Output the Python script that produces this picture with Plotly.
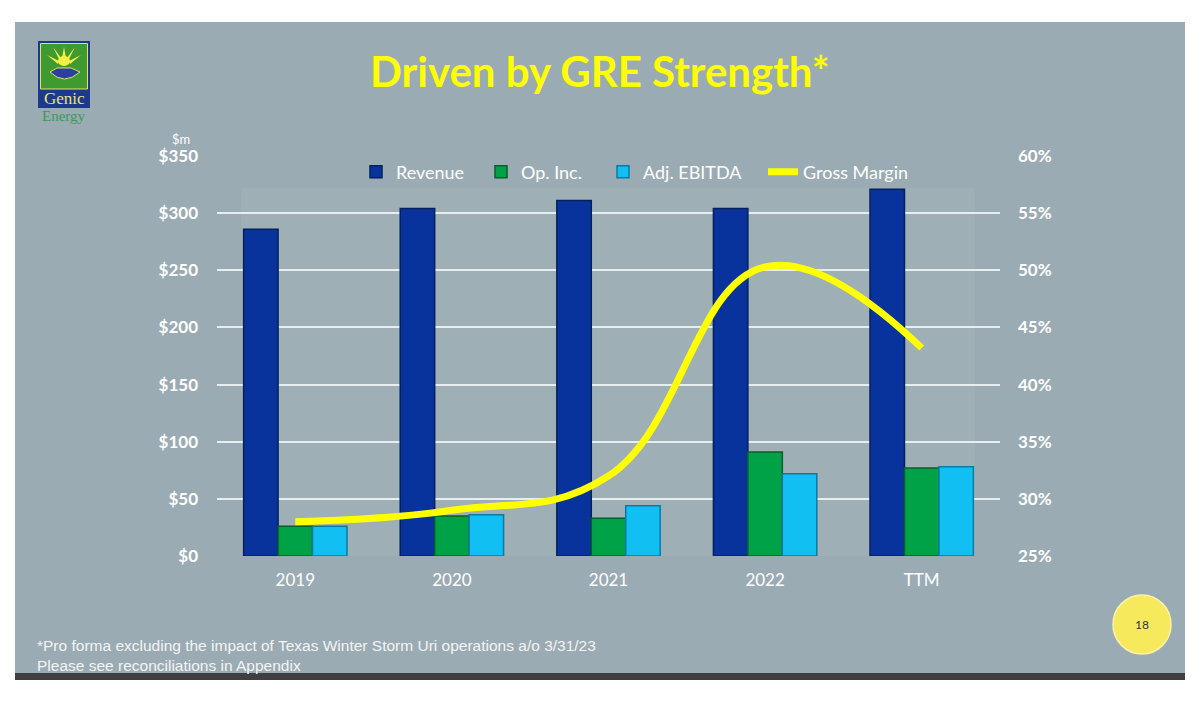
import plotly.graph_objects as go

# values
years = ["2019", "2020", "2021", "2022", "TTM"]
revenue = [286, 304, 311, 304, 321]
op_inc = [26, 35, 33, 91, 77]
adj_ebitda = [26, 36, 44, 72, 78]
gross_margin = [28.0, 29.0, 32.0, 50.3, 43.2]

left_ticks = [0, 50, 100, 150, 200, 250, 300, 350]
left_text = ["$" + str(v) for v in left_ticks]
right_ticks = [25, 30, 35, 40, 45, 50, 55, 60]
right_text = [str(v) + "%" for v in right_ticks]

# the page puts the figure 8px in from the corner, so the figure is that much smaller
OFF = 8
W, H = 1200 - OFF, 702 - OFF
L, R, T, B = 217, 1000, 156, 556   # plot area in page pixels


def xp(px):
    return (px - L) / (R - L)


def yp(py):
    return (B - py) / (B - T)


fig = go.Figure()

fig.add_trace(go.Bar(x=years, y=revenue, name="Revenue", legend="legend",
                     marker=dict(color="#08329c", line=dict(color="#03205f", width=1.5))))
fig.add_trace(go.Bar(x=years, y=op_inc, name="Op. Inc.", legend="legend3",
                     marker=dict(color="#00a247", line=dict(color="#04602a", width=1.5))))
fig.add_trace(go.Bar(x=years, y=adj_ebitda, name="Adj. EBITDA", legend="legend4",
                     marker=dict(color="#12bff3", line=dict(color="#0a7aa5", width=1.5))))
fig.add_trace(go.Scatter(x=years, y=gross_margin, name="Gross Margin", yaxis="y2", legend="legend2",
                         mode="lines", line=dict(color="#ffff00", width=7, shape="spline", smoothing=1.2)))

shapes = [
    # slide background
    dict(type="rect", xref="paper", yref="paper", layer="below",
         x0=xp(15), x1=xp(1185), y0=yp(673), y1=yp(22),
         fillcolor="#9aabb3", line=dict(width=0)),
    # faint inner plot panel
    dict(type="rect", xref="paper", yref="paper", layer="below",
         x0=xp(241), x1=xp(975), y0=yp(556), y1=yp(188),
         fillcolor="#9eafb6", line=dict(width=0)),
    # dark strip at the bottom of the slide
    dict(type="rect", xref="paper", yref="paper", layer="below",
         x0=xp(15), x1=xp(1185), y0=yp(680), y1=yp(673),
         fillcolor="#3f3f3f", line=dict(width=0)),
    # logo
    dict(type="rect", xref="paper", yref="paper",
         x0=xp(38), x1=xp(90), y0=yp(108), y1=yp(41),
         fillcolor="#1b3a8c", line=dict(width=0)),
    dict(type="rect", xref="paper", yref="paper",
         x0=xp(40.5), x1=xp(87.5), y0=yp(89), y1=yp(43.5),
         fillcolor="#3f9b2f", line=dict(color="#e8e060", width=1)),
    dict(type="circle", xref="paper", yref="paper",
         x0=xp(58), x1=xp(70), y0=yp(66), y1=yp(56),
         fillcolor="#f4f04a", line=dict(width=0)),
    dict(type="path", xref="paper", yref="paper",
         path=f"M {xp(64)},{yp(47)} L {xp(62)},{yp(58)} L {xp(66)},{yp(58)} Z "
              f"M {xp(47)},{yp(55)} L {xp(59)},{yp(61)} L {xp(58)},{yp(64)} Z "
              f"M {xp(81)},{yp(55)} L {xp(69)},{yp(61)} L {xp(70)},{yp(64)} Z "
              f"M {xp(53)},{yp(47)} L {xp(61)},{yp(58)} L {xp(59)},{yp(59)} Z "
              f"M {xp(75)},{yp(47)} L {xp(67)},{yp(58)} L {xp(69)},{yp(59)} Z",
         fillcolor="#f4f04a", line=dict(width=0)),
    dict(type="path", xref="paper", yref="paper",
         path=f"M {xp(50)},{yp(72)} Q {xp(64)},{yp(86)} {xp(80)},{yp(72)} "
              f"L {xp(71)},{yp(68)} L {xp(57)},{yp(68)} Z",
         fillcolor="#2a3fa0", line=dict(color="#e8e060", width=1)),
    # page number bubble
    dict(type="circle", xref="paper", yref="paper",
         x0=xp(1113), x1=xp(1171), y0=yp(654), y1=yp(595),
         fillcolor="#f6ea5c", line=dict(color="#fbf4a8", width=1.5)),
]


def note(text, px, py, size, color, family="Lato, sans-serif", **kw):
    return dict(text=text, x=xp(px), y=yp(py), xref="paper", yref="paper",
                xanchor=kw.pop("xanchor", "center"), yanchor=kw.pop("yanchor", "middle"),
                showarrow=False, font=dict(family=family, size=size, color=color), **kw)


annotations = [
    note("<b>Driven by GRE Strength*</b>", 600, 71, 42, "#ffff00"),
    note("$m", 181, 139, 13, "#ffffff"),
    note("Genic", 64, 99, 17, "#ece27a", family="Liberation Serif, serif"),
    note("Energy", 64, 116, 15, "#3b9a55", family="Liberation Serif, serif"),
    note("18", 1142, 624, 12, "#333333"),
    note("*Pro forma excluding the impact of Texas Winter Storm Uri operations a/o 3/31/23<br>"
         "Please see reconciliations in Appendix", 35, 655, 15.5, "#f4f4f4",
         family="Liberation Sans Narrow, Arial Narrow, sans-serif", xanchor="left", align="left"),
]

legend_font = dict(family="Lato, sans-serif", size=18, color="#ffffff")


def legend_at(px):
    return dict(orientation="h", x=xp(px), y=yp(172), xanchor="left", yanchor="middle",
                bgcolor="rgba(0,0,0,0)", itemwidth=30, font=legend_font)


fig.update_layout(
    width=W, height=H,
    margin=dict(l=L - OFF, r=W - (R - OFF), t=T - OFF, b=H - (B - OFF), pad=0),
    paper_bgcolor="#ffffff",
    plot_bgcolor="rgba(0,0,0,0)",
    barmode="group",
    bargap=0.34,
    bargroupgap=0,
    showlegend=True,
    legend=legend_at(356),
    legend3=legend_at(481),
    legend4=legend_at(603),
    legend2=legend_at(763),
    xaxis=dict(type="category", showgrid=False, showline=False, ticks="", ticklabelstandoff=12,
               tickfont=dict(family="Lato, sans-serif", size=17, color="#ffffff")),
    yaxis=dict(range=[0, 350], tickmode="array", tickvals=left_ticks, ticktext=left_text,
               showgrid=True, gridcolor="#e8edf0", gridwidth=1.5, zeroline=False, showline=False,
               ticklabelstandoff=18,
               tickfont=dict(family="Lato, sans-serif", size=17, color="#ffffff", weight="bold")),
    yaxis2=dict(range=[25, 60], tickmode="array", tickvals=right_ticks, ticktext=right_text,
                overlaying="y", side="right",
                showgrid=False, zeroline=False, showline=False, ticklabelstandoff=17,
                tickfont=dict(family="Lato, sans-serif", size=17, color="#ffffff", weight="bold")),
    shapes=shapes,
    annotations=annotations,
)

fig.write_html("out.html")
